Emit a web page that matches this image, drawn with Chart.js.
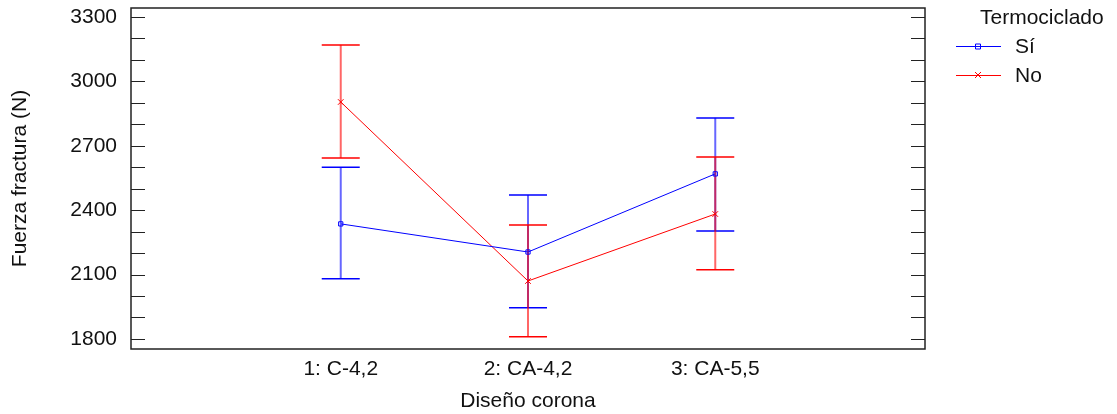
<!DOCTYPE html>
<html lang="es">
<head>
<meta charset="UTF-8">
<title>Fuerza fractura</title>
<script src="https://cdn.jsdelivr.net/npm/chart.js"></script>
<style>
    html, body { margin: 0; padding: 0; background: #fff; }
    #wrap { width: 1117px; height: 414px; }
</style>
</head>
<body>
<div id="wrap"><canvas id="chart"></canvas></div>
<script>
    // data
    const categories = ['1: C-4,2', '2: CA-4,2', '3: CA-5,5'];
    const siMean = [2336, 2205, 2569];
    const siLow = [2080, 1945, 2303];
    const siHigh = [2600, 2471, 2830];
    const noMean = [2904, 2070, 2382];
    const noLow = [2643, 1810, 2122];
    const noHigh = [3170, 2331, 2648];
    const yLabels = [1800, 2100, 2400, 2700, 3000, 3300];
    const yMinor = [1800, 1900, 2000, 2100, 2200, 2300, 2400, 2500, 2600, 2700, 2800, 2900, 3000, 3100, 3200, 3300];

    const FONT = 'Liberation Sans, Arial, sans-serif';
    const FS = 21;
    const BLUE = '#0000ff';
    const RED = '#ff0000';

    function pts(arr) {
        return arr.map((v, i) => ({ x: i, y: v }));
    }

    const errorBars = {
        id: 'errorBars',
        beforeDatasetsDraw(chart) {
            const ctx = chart.ctx;
            const xs = chart.scales.x, ys = chart.scales.y;
            const sets = [
                { low: siLow, high: siHigh, stem: 'rgba(0,0,255,0.6)', cap: BLUE },
                { low: noLow, high: noHigh, stem: 'rgba(255,0,0,0.6)', cap: RED }
            ];
            ctx.save();
            sets.forEach(s => {
                s.low.forEach((lo, i) => {
                    const px = xs.getPixelForValue(i);
                    const y1 = ys.getPixelForValue(lo);
                    const y2 = ys.getPixelForValue(s.high[i]);
                    ctx.strokeStyle = s.stem;
                    ctx.lineWidth = 2;
                    ctx.beginPath();
                    ctx.moveTo(px, y1);
                    ctx.lineTo(px, y2);
                    ctx.stroke();
                    ctx.strokeStyle = s.cap;
                    ctx.lineWidth = 1.5;
                    ctx.beginPath();
                    ctx.moveTo(px - 19, y1);
                    ctx.lineTo(px + 19, y1);
                    ctx.moveTo(px - 19, y2);
                    ctx.lineTo(px + 19, y2);
                    ctx.stroke();
                });
            });
            ctx.restore();
        },
        afterDraw(chart) {
            const ctx = chart.ctx;
            const a = chart.chartArea;
            const ys = chart.scales.y;
            ctx.save();
            // frame
            ctx.strokeStyle = '#222';
            ctx.lineWidth = 1.5;
            ctx.strokeRect(a.left, a.top, a.right - a.left, a.bottom - a.top);
            // inward ticks, left and right
            ctx.lineWidth = 1;
            ctx.beginPath();
            yMinor.forEach(v => {
                const py = Math.round(ys.getPixelForValue(v)) + 0.5;
                ctx.moveTo(a.left, py);
                ctx.lineTo(a.left + 14, py);
                ctx.moveTo(a.right, py);
                ctx.lineTo(a.right - 14, py);
            });
            ctx.stroke();

            // legend
            const lx = a.right + 31;
            ctx.fillStyle = '#111';
            ctx.font = FS + 'px ' + FONT;
            ctx.textBaseline = 'middle';
            ctx.textAlign = 'left';
            ctx.fillText('Termociclado', lx + 24, 18);
            const items = [
                { label: 'Sí', color: BLUE, y: 46, mark: 'rect' },
                { label: 'No', color: RED, y: 75, mark: 'cross' }
            ];
            items.forEach(it => {
                ctx.strokeStyle = it.color;
                ctx.lineWidth = 1;
                ctx.beginPath();
                ctx.moveTo(lx, it.y + 0.5);
                ctx.lineTo(lx + 45, it.y + 0.5);
                ctx.stroke();
                const cx = lx + 22;
                ctx.beginPath();
                if (it.mark === 'rect') {
                    ctx.rect(cx - 2.5, it.y - 2, 5, 5);
                } else {
                    ctx.moveTo(cx - 3, it.y - 3);
                    ctx.lineTo(cx + 3, it.y + 3);
                    ctx.moveTo(cx + 3, it.y - 3);
                    ctx.lineTo(cx - 3, it.y + 3);
                }
                ctx.stroke();
                ctx.fillStyle = '#111';
                ctx.fillText(it.label, lx + 59, it.y + 1);
            });
            ctx.restore();
        }
    };

    new Chart(document.getElementById('chart'), {
        type: 'line',
        data: {
            datasets: [
                {
                    label: 'Sí',
                    data: pts(siMean),
                    borderColor: BLUE,
                    backgroundColor: 'transparent',
                    borderWidth: 1,
                    pointStyle: 'rect',
                    pointRadius: 3,
                    pointBorderWidth: 1,
                    pointBorderColor: BLUE,
                    pointBackgroundColor: 'transparent'
                },
                {
                    label: 'No',
                    data: pts(noMean),
                    borderColor: RED,
                    backgroundColor: 'transparent',
                    borderWidth: 1,
                    pointStyle: 'crossRot',
                    pointRadius: 4,
                    pointBorderWidth: 1,
                    pointBorderColor: RED
                }
            ]
        },
        options: {
            responsive: true,
            maintainAspectRatio: false,
            animation: false,
            layout: { padding: { top: 8, right: 192, left: 0, bottom: 0 } },
            plugins: {
                legend: { display: false },
                tooltip: { enabled: false }
            },
            scales: {
                x: {
                    type: 'linear',
                    min: -1.12,
                    max: 3.12,
                    afterBuildTicks: s => { s.ticks = categories.map((c, i) => ({ value: i })); },
                    afterFit: s => { s.height = 65; s.paddingLeft = 0; s.paddingRight = 0; },
                    grid: { display: false, drawTicks: false },
                    border: { display: false },
                    ticks: {
                        padding: 8,
                        color: '#111',
                        font: { family: FONT, size: FS },
                        callback: v => categories[v]
                    },
                    title: {
                        display: true,
                        text: 'Diseño corona',
                        color: '#111',
                        font: { family: FONT, size: FS },
                        padding: { top: 0, bottom: 0 }
                    }
                },
                y: {
                    min: 1753,
                    max: 3342,
                    afterBuildTicks: s => { s.ticks = yLabels.map(v => ({ value: v })); },
                    afterFit: s => { s.width = 131; s.paddingTop = 0; s.paddingBottom = 0; },
                    grid: { display: false, drawTicks: false },
                    border: { display: false },
                    ticks: {
                        padding: 14,
                        color: '#111',
                        font: { family: FONT, size: FS },
                        callback: v => String(v)
                    },
                    title: {
                        display: true,
                        text: 'Fuerza fractura (N)',
                        color: '#111',
                        font: { family: FONT, size: FS },
                        padding: { top: 8, bottom: 0 }
                    }
                }
            }
        },
        plugins: [errorBars]
    });
</script>
</body>
</html>
